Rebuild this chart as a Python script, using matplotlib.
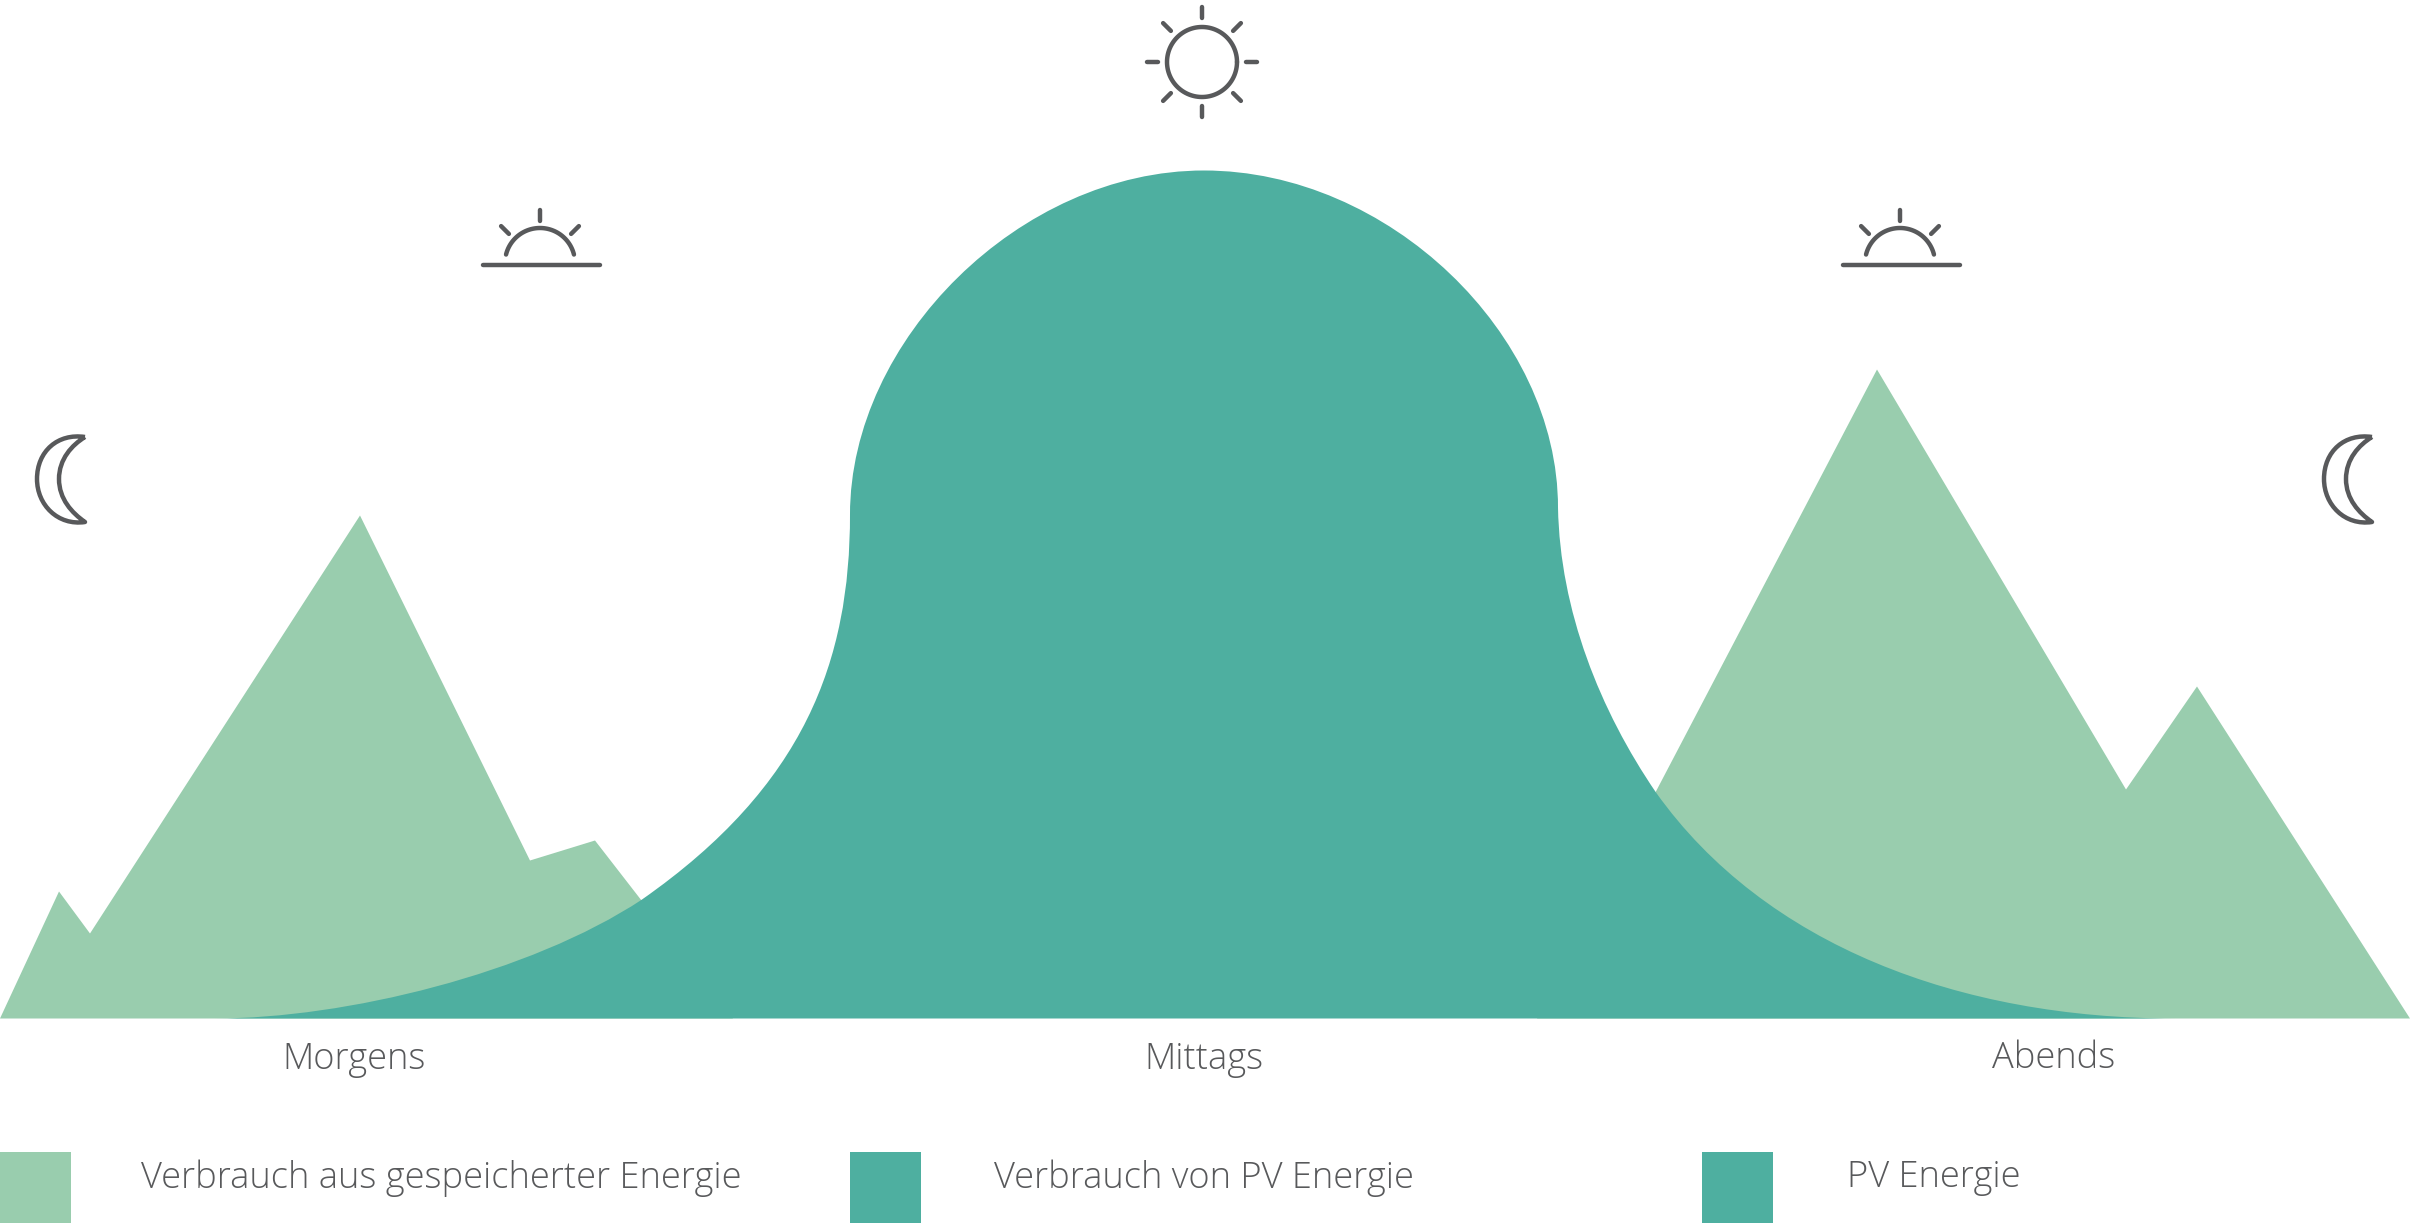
import matplotlib.pyplot as plt
from matplotlib.patches import PathPatch, Rectangle
from matplotlib.path import Path
import numpy as np

plt.rcParams['font.family'] = ['Open Sans', 'DejaVu Sans']

# heights above the baseline, x along the day
stored_x = [0, 59, 90, 360, 530, 595, 733, 1537, 1877, 2126, 2197, 2410]
stored_y = [0, 127, 85, 503, 158, 178, 0, 0, 649, 229, 332, 0]

# PV curve, cubic bezier: start point then (ctrl, ctrl, end) triples
pv_x = [215, 345, 530, 642, 805, 850, 850, 850, 1020, 1204, 1388, 1558, 1558, 1560, 1600, 1656, 1765, 1960, 2175]
pv_y = [0, 0, 45, 119, 233, 358, 504, 678, 848, 848, 848, 685, 511, 408, 308, 226, 73, 0, 0]

time_labels = ['Morgens', 'Mittags', 'Abends']
time_pos = [354, 1204, 2054]
legend_labels = ['Verbrauch aus gespeicherter Energie', 'Verbrauch von PV Energie', 'PV Energie']

LIGHT = '#99CDAE'
TEAL = '#4EAFA0'
GREY = '#58595B'
BASE = 1018.5
LW = 3.2


def stroke(ax, x, y, **kw):
    ax.plot(x, y, color=GREY, lw=LW, solid_capstyle='round', solid_joinstyle='round', clip_on=False, **kw)


def full_sun(ax, cx, cy):
    t = np.linspace(0, 2 * np.pi, 120)
    stroke(ax, cx + 35 * np.cos(t), cy + 35 * np.sin(t))
    for a in np.arange(0, 360, 45):
        c, s = np.cos(np.radians(a)), np.sin(np.radians(a))
        stroke(ax, [cx + 44 * c, cx + 55 * c], [cy + 44 * s, cy + 55 * s])


def half_sun(ax, cx, cy):
    t = np.radians(np.linspace(14, 166, 60))
    stroke(ax, cx + 35 * np.cos(t), cy + 2 + 35 * np.sin(t))
    stroke(ax, [cx - 57, cx + 60], [cy, cy])
    for a in (45, 90, 135):
        c, s = np.cos(np.radians(a)), np.sin(np.radians(a))
        stroke(ax, [cx + 44 * c, cx + 55 * c], [cy + 44 * s, cy + 55 * s])


def moon(ax, dx):
    verts = np.array([(85, 437), (58, 433), (37, 451), (37, 479), (37, 505), (58, 526), (85, 522),
                      (72, 513), (59, 499), (59, 479), (59, 459), (72, 445), (85, 437)], float)
    verts[:, 0] += dx
    verts[:, 1] = BASE - verts[:, 1]
    codes = [Path.MOVETO] + [Path.CURVE4] * 12
    ax.add_patch(PathPatch(Path(verts, codes), fc='none', ec=GREY, lw=LW, joinstyle='round'))


fig = plt.figure(figsize=(24.1, 12.25), dpi=100)
ax = fig.add_axes([0, 0, 1, 1])
ax.set_xlim(0, 2410)
ax.set_ylim(BASE - 1225, BASE)
ax.axis('off')

ax.fill(stored_x, stored_y, color=LIGHT, lw=0)
codes = [Path.MOVETO] + [Path.CURVE4] * (len(pv_x) - 1)
ax.add_patch(PathPatch(Path(np.column_stack([pv_x, pv_y]), codes), fc=TEAL, ec='none'))

for x, lab in zip(time_pos, time_labels):
    ax.text(x, BASE - 1059, lab, ha='center', va='center', fontsize=26.1, color=GREY, weight='light')

for sq, tx, lab, col in zip([0, 850, 1702], [141, 994, 1847], legend_labels, [LIGHT, TEAL, TEAL]):
    ax.add_patch(Rectangle((sq, BASE - 1223), 71, 71, fc=col, ec='none'))
    ax.text(tx, BASE - 1178, lab, ha='left', va='center', fontsize=26.1, color=GREY, weight='light')

full_sun(ax, 1202, BASE - 62)
half_sun(ax, 540, BASE - 265)
half_sun(ax, 1900, BASE - 265)
moon(ax, 0)
moon(ax, 2287)

fig.savefig('out.png', dpi=100, facecolor='white')
plt.close()
